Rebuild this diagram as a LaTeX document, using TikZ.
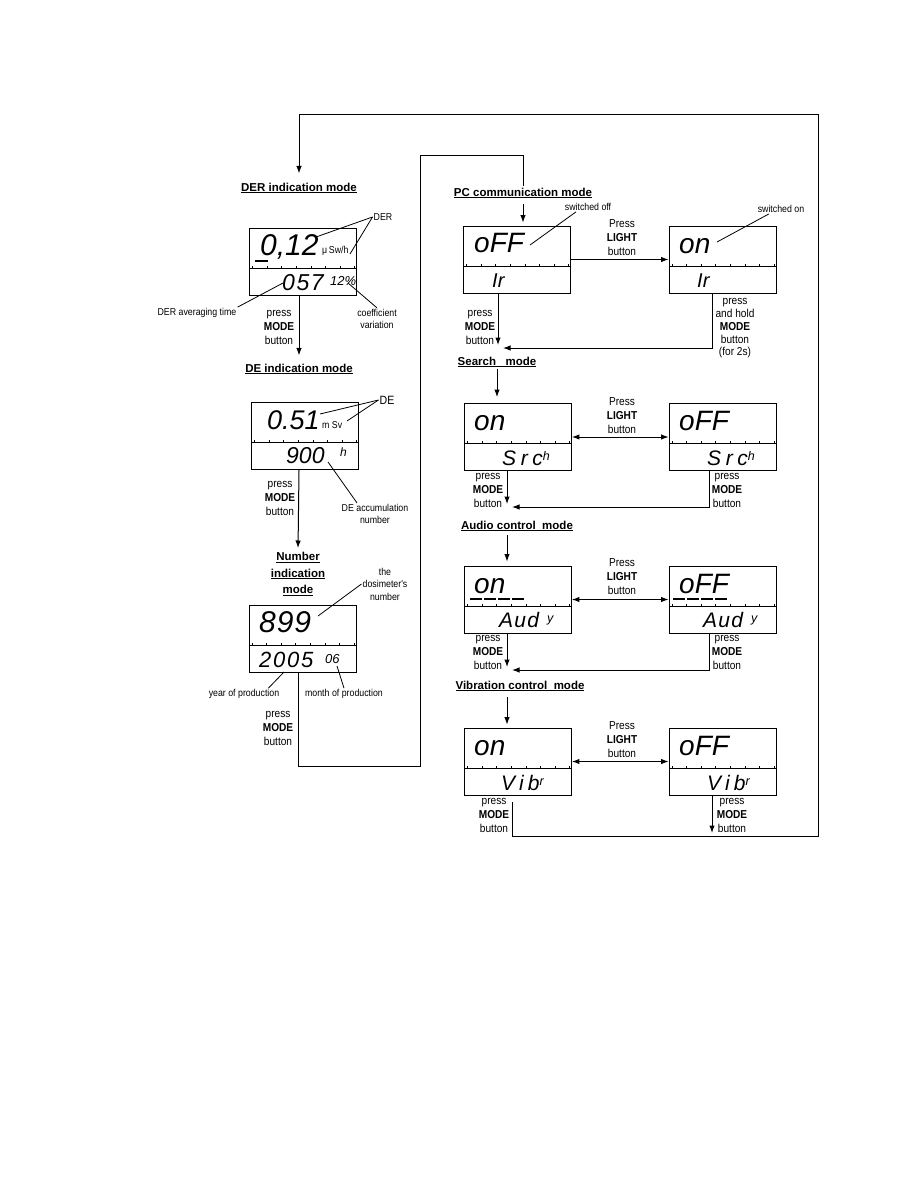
\documentclass[tikz,border=0pt]{standalone}
\usepackage{fontspec}
\setmainfont{Liberation Sans}
\newfontfamily\narrowfont{Liberation Sans}[FakeStretch=0.88]
\newfontfamily\lcdfont{Liberation Sans}
\usetikzlibrary{arrows.meta, calc}

\newcommand{\lcdsize}[1]{\fontsize{#1}{#1}\selectfont}
\newcommand{\lcdup}[1]{\raisebox{5pt}{\fontsize{12.5}{12.5}\selectfont #1}}

\begin{document}
\begin{tikzpicture}[x=1pt, y=-1pt,
        lcd/.style={draw, line width=0.9pt, minimum width=107pt, minimum height=67pt, inner sep=0pt},
        title/.style={font=\bfseries\fontsize{11.5}{16.5}\selectfont, anchor=base, inner sep=1pt},
        note/.style={font=\narrowfont\fontsize{10}{12.5}\selectfont, align=center, inner sep=1pt},
        cmd/.style={font=\narrowfont\fontsize{11.5}{14}\selectfont, align=center, inner sep=1pt},
        digits/.style={font=\lcdfont\itshape, anchor=base west, inner sep=0pt},
        flow/.style={line width=1pt},
        arr/.style={flow, -{Latex[length=7.5pt, width=5.5pt]}},
        dblarr/.style={flow, {Latex[length=7.5pt, width=5.5pt]}-{Latex[length=7.5pt, width=5.5pt]}},
        ptr/.style={line width=0.8pt},
        seg/.style={line width=2.5pt},
    ]
    \path[fill=white, use as bounding box] (0,0) rectangle (918,1188);

    % LCD panels
    \foreach \n/\x/\y in {der/303/261.5, de/305/436, num/302.5/638.5,
            pcoff/517/259.5, pcon/722.5/259.5, srchon/518/437, srchoff/722.5/437,
            audon/518/599.5, audoff/722.5/599.5, vibon/518/761.5, viboff/722.5/761.5} {
        \node[lcd] (\n) at (\x,\y) {};
        \draw[line width=1pt] (\x-53.5,\y+6.5) -- (\x+53.5,\y+6.5);
        \foreach \t in {0,...,7}
            \draw[line width=0.7pt] (\x-50.5+\t*14.6,\y+6.5) -- ++(0,-2.5);
    }

    % Mode titles
    \node[title] (dertitle) at (299,191) {\underline{DER indication mode}};
    \node[title] (detitle) at (299,372) {\underline{DE indication mode}};
    \node[title, anchor=north, align=center] (numtitle) at (298,551) {\underline{Number}\\\underline{indication}\\\underline{mode}};
    \node[title] (pctitle) at (523,196) {\underline{PC communication mode}};
    \node[title] (srchtitle) at (497,365) {\underline{Search\ \ \ mode}};
    \node[title] (audtitle) at (517,529) {\underline{Audio control\ \ mode}};
    \node[title] (vibtitle) at (520,689) {\underline{Vibration control\ \ mode}};

    % Readings on the displays
    \node[digits] (derval) at (260,255) {\lcdsize{30}0,12};
    \node[note, anchor=base west, inner sep=0pt] (derunit) at (322,253) {μ\,Sw/h};
    \node[digits] (dertime) at (282,290) {\lcdsize{23}\addfontfeature{LetterSpace=7}057};
    \node[digits] (dercoef) at (330,285) {\lcdsize{13}12\%};
    \draw[seg] (255,261) -- (268,261);

    \node[digits] (deval) at (267,429) {\lcdsize{27}0.51};
    \node[note, anchor=base west, inner sep=0pt] (deunit) at (322,428) {m Sv};
    \node[digits] (denum) at (286,463) {\lcdsize{23}900};
    \node[digits] (deh) at (340,456) {\lcdsize{12}h};

    \node[digits] (numval) at (259,632) {\lcdsize{30}\addfontfeature{LetterSpace=3}899};
    \node[digits] (numyear) at (259,667) {\lcdsize{22}\addfontfeature{LetterSpace=8}2005};
    \node[digits] (nummon) at (325,663) {\lcdsize{13}06};

    \node[digits] (pc-offtop) at (474,252) {\lcdsize{28}oFF};
    \node[digits] (pc-offbot) at (492,287) {\lcdsize{20}Ir};
    \node[digits] (pc-ontop) at (679,253) {\lcdsize{28}on};
    \node[digits] (pc-onbot) at (697,287) {\lcdsize{20}Ir};

    \foreach \r/\y in {srch/430, aud/593, vib/755} {
        \node[digits] (\r-ontop) at (474,\y) {\lcdsize{28}on};
        \node[digits] (\r-offtop) at (679,\y) {\lcdsize{28}oFF};
    }
    \node[digits] (srch-onbot) at (502,465) {\lcdsize{21}\addfontfeature{LetterSpace=22}Src\lcdup{h}};
    \node[digits] (srch-offbot) at (707,465) {\lcdsize{21}\addfontfeature{LetterSpace=22}Src\lcdup{h}};
    \node[digits] (aud-onbot) at (499,627) {\lcdsize{21}\addfontfeature{LetterSpace=6}Aud\hspace{8pt}\lcdup{y}};
    \node[digits] (aud-offbot) at (703,627) {\lcdsize{21}\addfontfeature{LetterSpace=6}Aud\hspace{8pt}\lcdup{y}};
    \node[digits] (vib-onbot) at (501,790) {\lcdsize{21}\addfontfeature{LetterSpace=20}Vib\lcdup{r}};
    \node[digits] (vib-offbot) at (707,790) {\lcdsize{21}\addfontfeature{LetterSpace=20}Vib\lcdup{r}};
    \foreach \k in {0,...,3} {
        \draw[seg] (470+\k*14,599) -- ++(12,0);
        \draw[seg] (673+\k*14,599) -- ++(12,0);
    }

    % Annotations
    \node[note] (derlbl) at (383,217) {DER};
    \node[note] (avglbl) at (197,313) {DER averaging time};
    \node[note] (coeflbl) at (377,319) {coefficient\\variation};
    \node[note, font=\narrowfont\fontsize{12}{14}\selectfont] (delbl) at (387,400) {DE};
    \node[note] (acclbl) at (375,514) {DE accumulation\\number};
    \node[note] (doslbl) at (385,584) {the\\dosimeter's\\number};
    \node[note] (yearlbl) at (244,694) {year of production};
    \node[note] (monlbl) at (344,694) {month of production};
    \node[note] (offlbl) at (588,207) {switched off};
    \node[note] (onlbl) at (781,209) {switched on};

    \coordinate (derptA) at (316,237);
    \coordinate (derptB) at (350,254);
    \coordinate (avgpt) at (283,283);
    \coordinate (coefpt) at (348,283);
    \coordinate (deptA) at (320,414);
    \coordinate (deptB) at (347,421);
    \coordinate (accpt) at (328,462);
    \coordinate (dospt) at (318,616);
    \coordinate (yearpt) at (284,672);
    \coordinate (monpt) at (337,666);
    \coordinate (offpt) at (530,245);
    \coordinate (onpt) at (717,242);
    \draw[ptr] (derlbl.west) -- (derptA);
    \draw[ptr] (derlbl.west) -- (derptB);
    \draw[ptr] (avglbl.north east) -- (avgpt);
    \draw[ptr] (coeflbl.north) -- (coefpt);
    \draw[ptr] (delbl.west) -- (deptA);
    \draw[ptr] (delbl.west) -- (deptB);
    \draw[ptr] ($(acclbl.north)+(-18,0)$) -- (accpt);
    \draw[ptr] (doslbl.west) -- (dospt);
    \draw[ptr] ($(yearlbl.north east)+(-12,0)$) -- (yearpt);
    \draw[ptr] (monlbl.north) -- (monpt);
    \draw[ptr] ($(offlbl.south)+(-12,0)$) -- (offpt);
    \draw[ptr] ($(onlbl.south)+(-12,0)$) -- (onpt);

    % Button labels
    \node[cmd] (dercmd) at (279,327.5) {press\\\textbf{MODE}\\button};
    \node[cmd] (decmd) at (280,498) {press\\\textbf{MODE}\\button};
    \node[cmd] (numcmd) at (278,728.5) {press\\\textbf{MODE}\\button};
    \node[cmd] (pccmdl) at (480,327) {press\\\textbf{MODE}\\button};
    \node[cmd, font=\narrowfont\fontsize{11.5}{12.75}\selectfont] (pccmdr) at (735,328.5) {press\\and hold\\\textbf{MODE}\\button\\(for 2s)};
    \node[cmd] (srchcmdl) at (488,490.5) {press\\\textbf{MODE}\\button};
    \node[cmd] (srchcmdr) at (727,490.5) {press\\\textbf{MODE}\\button};
    \node[cmd] (audcmdl) at (488,652.5) {press\\\textbf{MODE}\\button};
    \node[cmd] (audcmdr) at (727,652.5) {press\\\textbf{MODE}\\button};
    \node[cmd] (vibcmdl) at (494,815.5) {press\\\textbf{MODE}\\button};
    \node[cmd] (vibcmdr) at (732,815.5) {press\\\textbf{MODE}\\button};
    \foreach \n/\y in {pclight/237.5, srchlight/415.5, audlight/577, viblight/740}
        \node[cmd] (\n) at (622,\y) {Press\\\textbf{LIGHT}\\button};

    % Main loop back to DER mode
    \coordinate (loopstart) at (512,802);
    \coordinate (loopse) at (818,836);
    \coordinate (loopne) at (818,115);
    \draw[arr, shorten >=8pt] (loopstart) |- (loopse) -- (loopne) -| (dertitle.north);

    % Left column
    \draw[arr, shorten >=7pt] (der.south -| dertitle) -- (detitle.north);
    \draw[arr, shorten >=3pt] (de.south -| detitle) -- (numtitle.north);
    \coordinate (jumpbot) at (420,766);
    \coordinate (jumptop) at (420,155);
    \draw[flow] (num.south -| numtitle) |- (jumpbot) -- (jumptop) -| (pctitle.north);

    % PC communication mode
    \draw[arr, shorten <=5pt, shorten >=3pt] (pctitle.south) -- (pctitle.south |- pcoff.north);
    \draw[arr] (pcoff.east) -- (pcon.west);
    \coordinate (pcjoin) at (498,348);
    \draw[arr] (pcoff.south -| pcjoin) -- ([yshift=3pt]pcjoin);
    \draw[arr] ([xshift=-10.5pt]pcon.south) |- ([xshift=5pt]pcjoin);

    % Search mode
    \draw[arr, shorten <=1pt, shorten >=6pt] (srchtitle.south) -- (srchtitle.south |- srchon.north);
    \draw[dblarr] (srchon.east) -- (srchoff.west);
    \coordinate (srchjoin) at (507,507);
    \draw[arr] (srchon.south -| srchjoin) -- ([yshift=3pt]srchjoin);
    \draw[arr] ([xshift=-13.5pt]srchoff.south) |- ([xshift=5pt]srchjoin);

    % Audio control mode
    \coordinate (audjoin) at (507,670);
    \draw[arr, shorten <=3pt, shorten >=4pt] (audtitle.south -| audjoin) -- (audon.north -| audjoin);
    \draw[dblarr] (audon.east) -- (audoff.west);
    \draw[arr] (audon.south -| audjoin) -- ([yshift=3pt]audjoin);
    \draw[arr] ([xshift=-13.5pt]audoff.south) |- ([xshift=5pt]audjoin);

    % Vibration control mode
    \coordinate (vibend) at (712,833);
    \draw[arr, shorten <=5pt, shorten >=3pt] (vibtitle.south -| audjoin) -- (vibon.north -| audjoin);
    \draw[dblarr] (vibon.east) -- (viboff.west);
    \draw[arr] (viboff.south -| vibend) -- (vibend);

\end{tikzpicture}
\end{document}
